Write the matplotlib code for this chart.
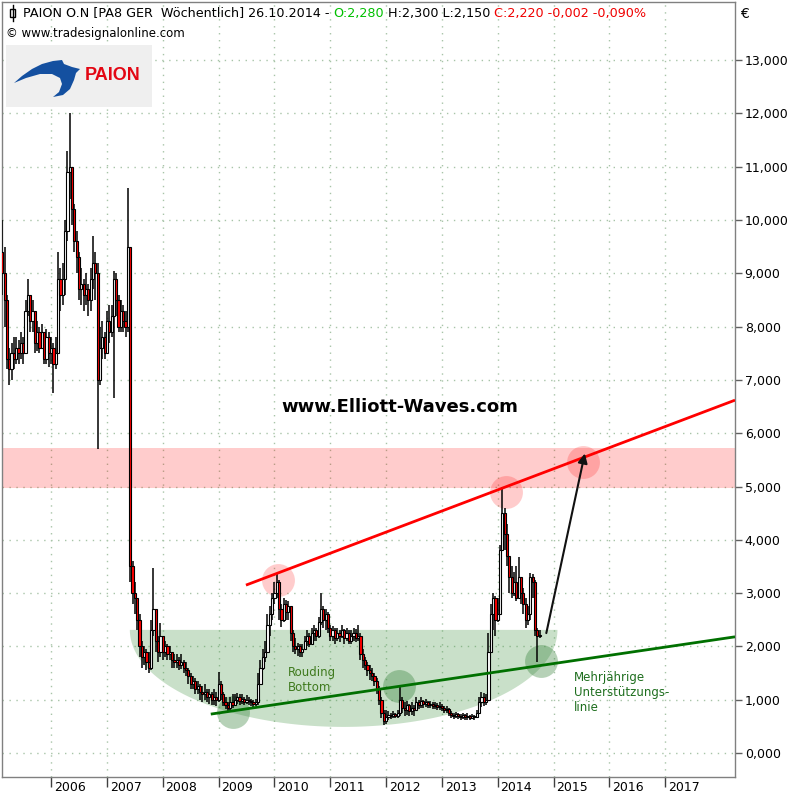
import numpy as np
import matplotlib
matplotlib.use('Agg')
import matplotlib.pyplot as plt
from matplotlib.patches import Rectangle, Polygon
from matplotlib.lines import Line2D
from matplotlib.transforms import ScaledTranslation

# PAION weekly chart, resampled to two candles per month, from Feb 2005 (EUR)
closes = [
    # 2005
    9.0, 8.5, 7.4, 7.2, 7.5, 7.4, 7.6, 7.5, 7.7, 7.5, 8.3, 8.6, 8.1, 8.3, 7.7, 7.9, 7.6, 7.9, 7.4, 7.8, 7.5,
    # 2006
    7.6, 7.3, 7.5, 8.9, 8.6, 8.9, 9.8, 10.9, 11.0, 10.2, 9.6, 9.3, 8.7, 8.8, 8.6, 8.7, 8.5, 8.9, 9.2, 9.0, 7.0, 7.6, 7.8, 7.5,
    # 2007
    8.1, 7.9, 8.2, 8.9, 8.5, 8.0, 8.3, 8.1, 8.0, 9.5, 3.5, 3.0, 2.9, 2.5, 2.0, 1.8, 1.9, 1.7, 1.6, 2.3, 2.7, 2.1, 1.9, 2.2,
    # 2008
    1.9, 2.0, 1.85, 1.9, 1.75, 1.7, 1.75, 1.65, 1.7, 1.6, 1.55, 1.45, 1.3, 1.35, 1.2, 1.25, 1.15, 1.1, 1.15, 1.05, 1.1, 1.0, 1.05, 1.0,
    # 2009
    1.3, 1.1, 0.95, 0.9, 0.85, 0.95, 0.9, 1.0, 1.05, 0.98, 1.02, 0.95, 1.0, 0.97, 0.95, 0.92, 0.95, 1.3, 1.6, 1.8, 1.9, 2.4, 2.6, 2.9,
    # 2010
    3.0, 3.2, 2.7, 2.5, 2.8, 2.65, 2.75, 2.25, 2.0, 1.95, 2.0, 1.9, 1.95, 2.1, 2.2, 2.05, 2.25, 2.3, 2.2, 2.45, 2.7, 2.5, 2.6, 2.35,
    # 2011
    2.2, 2.3, 2.15, 2.25, 2.2, 2.3, 2.15, 2.25, 2.1, 2.2, 2.25, 2.15, 2.2, 1.85, 1.75, 1.65, 1.55, 1.5, 1.45, 1.35, 1.2, 1.0, 0.75, 0.6,
    # 2012
    0.68, 0.72, 0.7, 0.73, 0.7, 0.75, 1.0, 0.85, 0.8, 0.9, 0.78, 0.85, 0.8, 0.95, 0.9, 0.98, 0.92, 0.95, 0.9, 0.92, 0.88, 0.9, 0.86, 0.88,
    # 2013
    0.85, 0.8, 0.82, 0.75, 0.72, 0.7, 0.74, 0.7, 0.68, 0.72, 0.68, 0.7, 0.66, 0.7, 0.68, 0.75, 0.95, 1.05, 0.95, 1.0, 1.9, 2.6, 2.9, 2.5,
    # 2014
    2.6, 3.8, 4.5, 4.1, 3.7, 3.3, 3.0, 3.2, 2.9, 3.3, 3.0, 2.8, 2.5, 2.6, 3.3, 3.2, 2.3, 2.2, 2.22,
]
highs = [
    10.0, 9.5, 8.6, 7.6, 7.7, 7.8, 7.8, 7.75, 7.9, 7.8, 8.5, 8.9, 8.6, 8.5, 8.2, 8.1, 8.0, 8.05, 7.9, 7.95, 7.9,
    7.8, 7.7, 7.8, 9.4, 9.1, 9.2, 10.0, 11.3, 12.0, 10.9, 10.3, 9.8, 9.4, 9.1, 8.9, 9.0, 8.8, 9.1, 9.7, 9.4, 9.2, 8.0, 8.1, 7.9,
    8.3, 8.4, 8.4, 9.05, 9.0, 8.6, 8.5, 8.4, 8.3, 10.6, 9.5, 3.6, 3.2, 2.8, 2.6, 2.1, 2.0, 1.95, 1.9, 2.5, 3.47, 2.6, 2.2, 2.44,
    2.1, 2.1, 2.05, 2.0, 1.9, 1.85, 1.85, 1.8, 1.85, 1.75, 1.7, 1.6, 1.5, 1.45, 1.4, 1.35, 1.3, 1.25, 1.3, 1.2, 1.2, 1.15, 1.2, 1.15,
    1.52, 1.35, 1.15, 1.05, 0.95, 1.05, 1.1, 1.1, 1.12, 1.1, 1.1, 1.05, 1.08, 1.05, 1.02, 1.0, 1.02, 1.5, 1.75, 1.95, 2.1, 2.6, 2.75, 3.0,
    3.2, 3.38, 3.25, 2.8, 2.9, 2.87, 2.85, 2.7, 2.3, 2.15, 2.06, 2.05, 2.05, 2.2, 2.3, 2.25, 2.35, 2.4, 2.35, 2.55, 3.0, 2.75, 2.7, 2.65,
    2.4, 2.38, 2.35, 2.35, 2.3, 2.4, 2.32, 2.35, 2.3, 2.3, 2.35, 2.32, 2.4, 2.25, 1.95, 1.8, 1.7, 1.65, 1.6, 1.5, 1.4, 1.25, 1.05, 0.8,
    0.8, 0.78, 0.76, 0.78, 0.76, 0.8, 1.24, 1.05, 0.95, 0.98, 0.92, 0.95, 0.9, 1.05, 1.0, 1.05, 1.0, 1.02, 0.98, 0.98, 0.95, 0.96, 0.93, 0.95,
    0.92, 0.88, 0.88, 0.84, 0.78, 0.76, 0.77, 0.75, 0.74, 0.76, 0.74, 0.75, 0.72, 0.74, 0.72, 0.8, 1.05, 1.15, 1.12, 1.1, 2.25, 2.8, 3.0, 2.95,
    2.9, 3.9, 5.0, 4.6, 4.3, 3.7, 3.5, 3.4, 3.5, 3.68, 3.3, 3.1, 2.9, 2.75, 3.38, 3.35, 3.25, 2.35, 2.3,
]
lows = [
    8.6, 8.0, 7.2, 6.9, 7.0, 7.2, 7.3, 7.3, 7.4, 7.3, 7.5, 8.2, 7.9, 7.9, 7.5, 7.55, 7.5, 7.6, 7.3, 7.3, 7.25,
    7.3, 6.75, 7.2, 8.2, 8.3, 8.4, 8.6, 9.6, 10.4, 9.9, 9.4, 9.0, 8.5, 8.4, 8.3, 8.4, 8.2, 8.3, 8.7, 8.5, 5.7, 6.9, 7.4, 7.4,
    7.6, 7.7, 7.8, 6.66, 8.2, 7.9, 7.9, 7.9, 7.8, 7.9, 3.2, 2.8, 2.6, 2.3, 1.8, 1.6, 1.65, 1.55, 1.5, 1.55, 2.2, 1.9, 1.7, 1.8,
    1.75, 1.8, 1.75, 1.75, 1.6, 1.6, 1.6, 1.55, 1.58, 1.5, 1.45, 1.3, 1.2, 1.2, 1.1, 1.1, 1.0, 0.95, 1.0, 0.95, 0.92, 0.9, 0.9, 0.88,
    0.95, 1.0, 0.88, 0.82, 0.77, 0.8, 0.85, 0.9, 0.92, 0.9, 0.92, 0.9, 0.92, 0.9, 0.88, 0.87, 0.88, 0.9, 1.3, 1.55, 1.7, 1.9, 2.2, 2.5,
    2.8, 2.9, 2.5, 2.36, 2.45, 2.5, 2.5, 2.1, 1.9, 1.85, 1.82, 1.8, 1.8, 1.95, 2.0, 1.98, 2.05, 2.1, 2.1, 2.15, 2.4, 2.35, 2.3, 2.25,
    2.1, 2.1, 2.05, 2.1, 2.08, 2.15, 2.05, 2.1, 2.05, 2.05, 2.1, 2.08, 2.1, 1.75, 1.6, 1.55, 1.45, 1.37, 1.35, 1.25, 1.1, 0.9, 0.65, 0.53,
    0.55, 0.62, 0.64, 0.65, 0.65, 0.66, 0.7, 0.75, 0.7, 0.72, 0.7, 0.72, 0.7, 0.8, 0.82, 0.85, 0.85, 0.86, 0.84, 0.85, 0.82, 0.83, 0.8, 0.8,
    0.78, 0.76, 0.75, 0.7, 0.66, 0.64, 0.65, 0.63, 0.62, 0.63, 0.62, 0.62, 0.62, 0.63, 0.62, 0.65, 0.75, 0.86, 0.88, 0.9, 1.0, 1.9, 2.3, 2.2,
    2.45, 2.6, 3.8, 3.8, 3.5, 3.0, 2.9, 2.95, 2.85, 2.9, 2.8, 2.6, 2.35, 2.4, 2.5, 2.9, 2.2, 1.7, 2.15,
]
first_open = 9.4
start_year = 2005.125

years = list(range(2006, 2018))
price_ticks = list(range(0, 14))

# drawn analysis
resistance_band = (4.97, 5.72)
red_line_t = [2009.49, 2018.25]
red_line_p = [3.15, 6.62]
green_line_t = [2008.86, 2018.25]
green_line_p = [0.73, 2.18]
pink_t = [2010.06, 2014.14, 2015.53]
pink_p = [3.25, 4.90, 5.46]
green_t = [2009.26, 2012.24, 2014.78]
green_p = [0.77, 1.26, 1.73]
bottom_center = (2011.24, 2.31)
bottom_halfwidth = 3.83
bottom_depth = 1.82
arrow_from = (2014.87, 2.25)
arrow_to = (2015.56, 5.62)

header_parts = [
    ("PAION O.N [PA8 GER  Wöchentlich] 26.10.2014 - ", "#000000"),
    ("O:2,280", "#00C000"),
    (" H:2,300 L:2,150 ", "#000000"),
    ("C:2,220 -0,002 -0,090%", "#F00000"),
]

plt.rcParams['font.family'] = ['DejaVu Sans']
fig = plt.figure(figsize=(8, 8), dpi=100)
ax = fig.add_axes([2 / 800, 1 - 777 / 800, 733 / 800, 775 / 800])


def px(x, y):
    return (x / 800, 1 - y / 800)


closes = np.array(closes)
highs = np.array(highs)
lows = np.array(lows)
opens = np.concatenate([[first_open], closes[:-1]])
t = start_year + np.arange(len(closes)) / 24.0

# background pieces
ax.axhspan(*resistance_band, color='#FF0000', alpha=0.2, lw=0, zorder=1)
theta = np.linspace(np.pi, 2 * np.pi, 200)
bx = bottom_center[0] + bottom_halfwidth * np.cos(theta)
by = bottom_center[1] + bottom_depth * np.sin(theta)
ax.fill(bx, by, color='#4C9A4C', alpha=0.3, lw=0, zorder=1.5)
ax.scatter(pink_t, pink_p, s=560, color='#FF0000', alpha=0.2, lw=0, zorder=2)
ax.scatter(green_t, green_p, s=560, color='#2E7D32', alpha=0.35, lw=0, zorder=2)

# candles
top = np.maximum(highs, np.maximum(opens, closes))
bot = np.minimum(lows, np.minimum(opens, closes))
ax.vlines(t, bot, top, color='black', lw=1.1, zorder=3)
up = closes >= opens
body_colors = np.where(up, 'white', '#FF0000')
ax.bar(t, closes - opens, bottom=opens, width=0.95 / 24, color=body_colors,
       edgecolor='black', lw=0.8, zorder=3.5)

# trend lines and arrow
ax.plot(red_line_t, red_line_p, color='#FF0000', lw=2, zorder=4, solid_capstyle='butt')
ax.plot(green_line_t, green_line_p, color='#007000', lw=2, zorder=4, solid_capstyle='butt')
ax.annotate('', xy=arrow_to, xytext=arrow_from,
            arrowprops=dict(arrowstyle='-|>', color='#111111', lw=1.5,
                            mutation_scale=14, shrinkA=0, shrinkB=0), zorder=5)

ax.text(2012.24, 6.49, 'www.Elliott-Waves.com', fontsize=13, fontweight='bold',
        ha='center', va='center', zorder=6)
ax.text(2010.24, 1.37, 'Rouding\nBottom', fontsize=8.5, color='#3F7A1E',
        ha='left', va='center', zorder=6)
ax.text(2015.37, 1.14, 'Mehrjährige\nUnterstützungs-\nlinie', fontsize=8.5,
        color='#1E6E1E', ha='left', va='center', zorder=6)

# axes look
ax.set_xlim(2005.12, 2018.25)
ax.set_ylim(-0.45, 14.09)
ax.set_xticks(years)
ax.set_xticklabels([str(y) for y in years])
ax.set_yticks(price_ticks)
ax.set_yticklabels([f"{v:.3f}".replace('.', ',') for v in price_ticks])
ax.yaxis.tick_right()
ax.tick_params(axis='y', length=5, width=1, color='#606060', labelsize=9, pad=2)
ax.tick_params(axis='x', length=7, width=1, color='#404040', labelsize=9, pad=-4)
offset = ScaledTranslation(2 / 72, 0, fig.dpi_scale_trans)
for lab in ax.get_xticklabels():
    lab.set_horizontalalignment('left')
    lab.set_transform(lab.get_transform() + offset)
ax.grid(True, color='#A8C4A8', linestyle=(0, (1, 4)), lw=1)
ax.set_axisbelow(True)
for sp in ax.spines.values():
    sp.set_color('#808080')
    sp.set_linewidth(1)

# header
renderer = fig.canvas.get_renderer()
x0 = 23 / 800
for txt, col in header_parts:
    tt = fig.text(x0, 1 - 13 / 800, txt, color=col, fontsize=9.2, va='center', ha='left')
    bb = tt.get_window_extent(renderer=renderer)
    x0 += bb.width / 800
fig.text(6 / 800, 1 - 33 / 800, '© www.tradesignalonline.com', fontsize=8.5, va='center', ha='left')
fig.text(740 / 800, 1 - 14 / 800, '€', fontsize=10, va='center', ha='left')
fig.add_artist(Line2D([12.5 / 800, 12.5 / 800], [1 - 5 / 800, 1 - 21 / 800], color='black', lw=1))
fig.add_artist(Rectangle(px(10, 17), 5 / 800, 8 / 800, facecolor='white', edgecolor='black', lw=1))

# logo
fig.add_artist(Rectangle(px(6, 107), 146 / 800, 62 / 800, facecolor='#EFEFEF', edgecolor='none', zorder=7))
swoosh = [(14, 83), (22, 76), (32, 69), (42, 64), (53, 61), (62, 60), (64, 64), (72, 67), (80, 69),
          (76, 73), (74, 80), (70, 89), (63, 95), (53, 97), (59, 92), (62, 84), (60, 78),
          (52, 74), (40, 74), (26, 78)]
fig.add_artist(Polygon([px(a, b) for a, b in swoosh], closed=True, facecolor='#1450A0',
                       edgecolor='none', zorder=8))
fig.text(85 / 800, 1 - 75 / 800, 'PAION', fontsize=13, fontweight='bold', color='#E30613',
         family='Liberation Sans', va='center', ha='left', zorder=8)

fig.savefig('out.png', dpi=100)
